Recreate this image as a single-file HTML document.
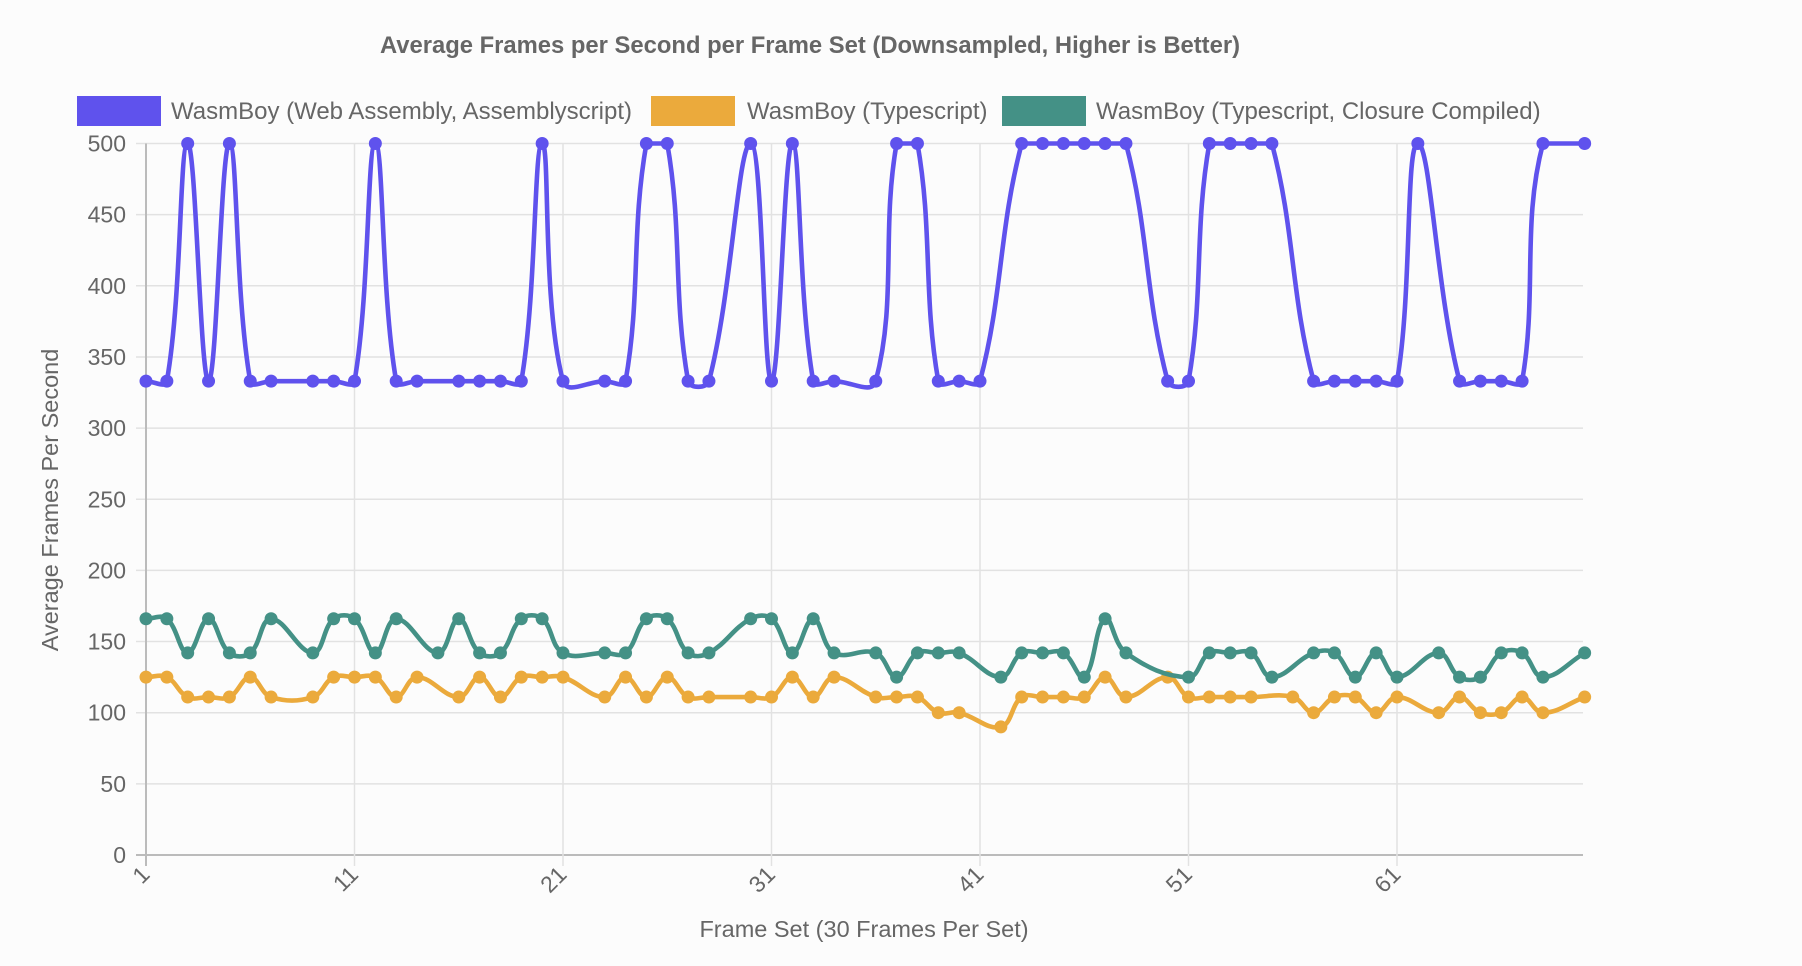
<!DOCTYPE html>
<html><head><meta charset="utf-8"><style>
html,body{margin:0;padding:0;background:#fcfcfc;}
svg{display:block;font-family:"Liberation Sans",sans-serif;}
</style></head><body>
<svg id="chart" width="1802" height="966" viewBox="0 0 1802 966">
<rect width="1802" height="966" fill="#fcfcfc"/>
<text x="810" y="53" text-anchor="middle" font-size="23.8" font-weight="bold" fill="#666">Average Frames per Second per Frame Set (Downsampled, Higher is Better)</text>
<g>
<g><rect x="77" y="96" width="84" height="30" fill="#5f52ed"/><text x="171" y="119" font-size="24" fill="#666">WasmBoy (Web Assembly, Assemblyscript)</text></g>
<g><rect x="651" y="96" width="84" height="30" fill="#ebaa3c"/><text x="747" y="119" font-size="24" fill="#666">WasmBoy (Typescript)</text></g>
<g><rect x="1002" y="96" width="84" height="30" fill="#449186"/><text x="1096" y="119" font-size="24" fill="#666">WasmBoy (Typescript, Closure Compiled)</text></g>
</g>
<g id="grid"></g>
<g id="series"></g>
<text transform="translate(58,500) rotate(-90)" text-anchor="middle" font-size="23.5" fill="#666">Average Frames Per Second</text>
<text x="864" y="937" text-anchor="middle" font-size="23.5" fill="#666">Frame Set (30 Frames Per Set)</text>
</svg>
<script>
const yTicks=[0,50,100,150,200,250,300,350,400,450,500];
const xTickLabels=[1,11,21,31,41,51,61];
const wasmX=[1,2,3,4,5,6,7,9,10,11,12,13,14,16,17,18,19,20,21,23,24,25,26,27,28,30,31,32,33,34,36,37,38,39,40,41,43,44,45,46,47,48,50,51,52,53,54,55,57,58,59,60,61,62,64,65,66,67,68,70];
const wasmY=[333,333,500,333,500,333,333,333,333,333,500,333,333,333,333,333,333,500,333,333,333,500,500,333,333,500,333,500,333,333,333,500,500,333,333,333,500,500,500,500,500,500,333,333,500,500,500,500,333,333,333,333,333,500,333,333,333,333,500,500];
const tsX=[1,2,3,4,5,6,7,9,10,11,12,13,14,16,17,18,19,20,21,23,24,25,26,27,28,30,31,32,33,34,36,37,38,39,40,42,43,44,45,46,47,48,50,51,52,53,54,56,57,58,59,60,61,63,64,65,66,67,68,70];
const tsY=[125,125,111,111,111,125,111,111,125,125,125,111,125,111,125,111,125,125,125,111,125,111,125,111,111,111,111,125,111,125,111,111,111,100,100,90,111,111,111,111,125,111,125,111,111,111,111,111,100,111,111,100,111,100,111,100,100,111,100,111];
const ccX=[1,2,3,4,5,6,7,9,10,11,12,13,15,16,17,18,19,20,21,23,24,25,26,27,28,30,31,32,33,34,36,37,38,39,40,42,43,44,45,46,47,48,51,52,53,54,55,57,58,59,60,61,63,64,65,66,67,68,70];
const ccY=[166,166,142,166,142,142,166,142,166,166,142,166,142,166,142,142,166,166,142,142,142,166,166,142,142,166,166,142,166,142,142,125,142,142,142,125,142,142,142,125,166,142,125,142,142,142,125,142,142,125,142,125,142,125,125,142,142,125,142];
const NS='http://www.w3.org/2000/svg';
const L=146,R=1583,T=143.5,B=855,X0=1,DX=20.85;
function xs(v){return L+(v-X0)*DX;}
function ys(v){return B-(v/500)*(B-T);}
function mk(tag,attrs,parent){const e=document.createElementNS(NS,tag);for(const k in attrs)e.setAttribute(k,attrs[k]);parent.appendChild(e);return e;}
const grid=document.getElementById('grid');
yTicks.forEach(t=>{
  const y=ys(t);
  const ln=mk('line',{x1:L-10,x2:R,y1:y,y2:y,stroke:t===0?'#bbb':'#e2e2e2','stroke-width':t===0?2:1.5},grid);
  
  
  const tx=mk('text',{x:L-20,y:y+8,'text-anchor':'end','font-size':23,fill:'#666'},grid);
  tx.textContent=t;
  
  
});
xTickLabels.forEach(t=>{
  const x=xs(t);
  const ln=mk('line',{x1:x,x2:x,y1:T,y2:B+11,stroke:t===1?'#bbb':'#e2e2e2','stroke-width':t===1?2:1.5},grid);
  
  
  const tx=mk('text',{x:x+5,y:B+21,'text-anchor':'end','font-size':23,fill:'#666',transform:`rotate(-45 ${x+5} ${B+21})`},grid);
  tx.textContent=t;
  
  
});
function clampY(v){return Math.max(T,Math.min(B,v));}
function pathFor(xa,ya){
  const p=xa.map((v,i)=>[xs(v),ys(ya[i])]);const t=0.4;
  const cps=p.map((c,i)=>{
    const pr=p[i-1]||c,nx=p[i+1]||c;
    const d01=Math.hypot(c[0]-pr[0],c[1]-pr[1]),d12=Math.hypot(nx[0]-c[0],nx[1]-c[1]);
    let s01=d01/(d01+d12)||0,s12=d12/(d01+d12)||0;
    const fa=t*s01,fb=t*s12;
    return {p:[c[0]-fa*(nx[0]-pr[0]),clampY(c[1]-fa*(nx[1]-pr[1]))],n:[c[0]+fb*(nx[0]-pr[0]),clampY(c[1]+fb*(nx[1]-pr[1]))]};
  });
  let d=`M${p[0][0]},${p[0][1]}`;
  for(let i=1;i<p.length;i++){d+=`C${cps[i-1].n[0]},${cps[i-1].n[1]} ${cps[i].p[0]},${cps[i].p[1]} ${p[i][0]},${p[i][1]}`;}
  return {d,p};
}
const ser=document.getElementById('series');
function draw(xa,ya,color,name){
  const g=mk('g',{},ser);
  
  
  const r=pathFor(xa,ya);
  const path=mk('path',{d:r.d,fill:'none',stroke:color,'stroke-width':4.6},g);
  
  
  r.p.forEach(q=>{
    const c=mk('circle',{cx:q[0],cy:q[1],r:6.5,fill:color},g);
    
    
  });
}
draw(tsX,tsY,'#ebaa3c','typescript-series');
draw(ccX,ccY,'#449186','closure-series');
draw(wasmX,wasmY,'#5f52ed','wasm-series');
</script>
</body></html>
